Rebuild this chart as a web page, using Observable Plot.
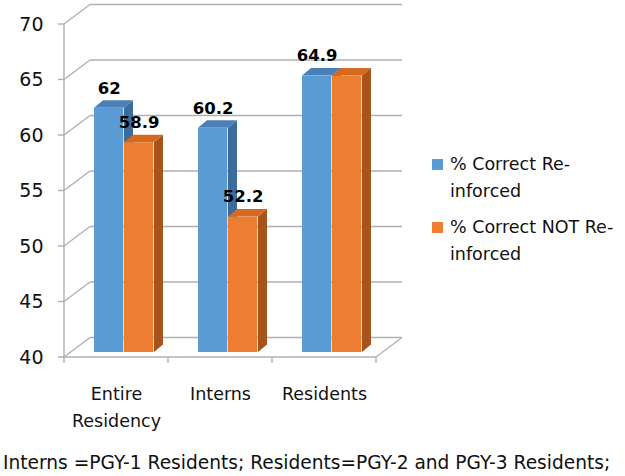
<!DOCTYPE html>
<html>
<head>
<meta charset="utf-8">
<script src="https://cdn.jsdelivr.net/npm/d3@7"></script>
<script src="https://cdn.jsdelivr.net/npm/@observablehq/plot@0.6"></script>
<style>
  html, body { margin: 0; padding: 0; background: #fff; }
  #wrap { position: relative; width: 625px; height: 476px; overflow: hidden; font-family: "DejaVu Sans", sans-serif; color: #111; }
  #wrap svg { position: absolute; left: 0; top: 0; }
  .legend { position: absolute; left: 432px; top: 151px; font-size: 17.5px; line-height: 27px; }
  .legend .item { position: relative; padding-left: 18px; white-space: pre-line; margin-bottom: 9px; }
  .legend .sw { position: absolute; left: 0; top: 8px; width: 11px; height: 11px; }
  .caption { position: absolute; left: 3px; top: 451px; font-size: 18.6px; line-height: 24px; white-space: nowrap; }
</style>
</head>
<body>
<div id="wrap"></div>
<script>
// ---- data ----
const categories = ["Entire Residency", "Interns", "Residents"];
const categoryLabels = ["Entire\nResidency", "Interns", "Residents"];
const seriesNames = ["% Correct Re-inforced", "% Correct NOT Re-inforced"];
const reinforced = [62, 60.2, 64.9];
const notReinforced = [58.9, 52.2, 64.9];
const reinforcedLabels = ["62", "60.2", "64.9"];
const notReinforcedLabels = ["58.9", "52.2", null];
const yTicks = [40, 45, 50, 55, 60, 65, 70];
const captionText = "Interns =PGY-1 Residents; Residents=PGY-2 and PGY-3 Residents;";

// ---- styles ----
const W = 625, H = 476;
const FRONT_X0 = 63, FRONT_X1 = 377, Y_BOTTOM = 357, Y_TOP = 24;
const WALL_DX = 26, WALL_DY = -19.5;
const BAR_DY = -5, DEPTH_DX = 9, DEPTH_DY = -7.5;
const BAND = (FRONT_X1 - FRONT_X0) / categories.length;
const INSETS = [[30, 60], [60, 90]];
const FRONT = ["#5B9BD5", "#ED7D31"];
const TOP = ["#4A80B6", "#D4691F"];
const SIDE = ["#3E6C9A", "#A6541C"];
const GRID = "#b0b0b0";
const FONT = "DejaVu Sans";

const values = [reinforced, notReinforced];
const labels = [reinforcedLabels, notReinforcedLabels];
const rows = [];
values.forEach((vals, s) => vals.forEach((v, i) => rows.push({category: categories[i], series: s, value: v, label: labels[s][i]})));
const base = yTicks[0];

function walls(index, scales) {
  const x = scales.x, y = scales.y;
  const bw = typeof x.bandwidth === "function" ? x.bandwidth() : (x(categories[1]) - x(categories[0]));
  const xL = x(categories[0]);
  const xR = x(categories[categories.length - 1]) + bw;
  const y0 = y(yTicks[0]), yT = y(yTicks[yTicks.length - 1]);
  const g = d3.create("svg:g").attr("fill", "none").attr("stroke", GRID).attr("stroke-width", 1.4);
  const line = (a, b, c, d) => g.append("line").attr("x1", a).attr("y1", b).attr("x2", c).attr("y2", d);
  for (const t of yTicks) {
    const yt = y(t);
    line(xL + WALL_DX, yt + WALL_DY, xR + WALL_DX, yt + WALL_DY);
    line(xL, yt, xL + WALL_DX, yt + WALL_DY);
    line(xL - 6, yt, xL, yt);
  }
  line(xL, yT, xL, y0);
  line(xL, y0, xR, y0);
  line(xR, y0, xR + WALL_DX, y0 + WALL_DY);
  for (let i = 0; i <= categories.length; i++) line(xL + i * bw, y0, xL + i * bw, y0 + 6);
  return g.node();
}

function faces(s) {
  return (index, scales) => {
    const x = scales.x, y = scales.y;
    const g = d3.create("svg:g").attr("stroke", "none");
    for (const r of rows.filter(d => d.series === s)) {
      const xa = x(r.category) + INSETS[s][0], xb = x(r.category) + INSETS[s][1];
      const yv = y(r.value) + BAR_DY, yb = y(base) + BAR_DY;
      g.append("polygon").attr("fill", SIDE[s])
        .attr("points", [[xb, yv], [xb + DEPTH_DX, yv + DEPTH_DY], [xb + DEPTH_DX, yb + DEPTH_DY], [xb, yb]].join(" "));
      g.append("polygon").attr("fill", TOP[s])
        .attr("points", [[xa, yv], [xb, yv], [xb + DEPTH_DX, yv + DEPTH_DY], [xa + DEPTH_DX, yv + DEPTH_DY]].join(" "));
    }
    return g.node();
  };
}

const marks = [walls];
[0, 1].forEach(s => {
  const data = rows.filter(d => d.series === s);
  marks.push(faces(s));
  marks.push(Plot.barY(data, {
    x: "category", y1: () => base, y2: "value", fill: FRONT[s],
    insetLeft: INSETS[s][0], insetRight: BAND - INSETS[s][1], dy: BAR_DY
  }));
});
[0, 1].forEach(s => {
  const data = rows.filter(d => d.series === s && d.label);
  marks.push(Plot.text(data, {
    x: "category", y: "value", text: "label",
    dx: (INSETS[s][0] + INSETS[s][1]) / 2 - BAND / 2, dy: BAR_DY - 20,
    fontFamily: FONT, fontWeight: "bold", fontSize: 16.5, fill: "#000"
  }));
});
marks.push(Plot.text(yTicks, {
  y: d => d, text: d => String(d), frameAnchor: "left", textAnchor: "end", dx: 43,
  fontFamily: FONT, fontSize: 19, fill: "#111"
}));
marks.push(Plot.text(categories, {
  x: d => d, text: (d, i) => categoryLabels[i], frameAnchor: "top", lineAnchor: "top", dy: 380,
  lineHeight: 27 / 17.5, fontFamily: FONT, fontSize: 17.5, fill: "#111"
}));

const chart = Plot.plot({
  width: W, height: H,
  marginLeft: 0, marginRight: 0, marginTop: 0, marginBottom: 0,
  x: {type: "band", domain: categories, range: [FRONT_X0, FRONT_X1], padding: 0, axis: null},
  y: {type: "linear", domain: [yTicks[0], yTicks[yTicks.length - 1]], range: [Y_BOTTOM, Y_TOP], axis: null},
  style: {background: "#fff", overflow: "visible"},
  marks
});

const wrap = document.getElementById("wrap");
wrap.appendChild(chart);

const legend = document.createElement("div");
legend.className = "legend";
seriesNames.forEach((name, s) => {
  const item = document.createElement("div");
  item.className = "item";
  const sw = document.createElement("span");
  sw.className = "sw";
  sw.style.background = FRONT[s];
  item.appendChild(sw);
  item.appendChild(document.createTextNode(name.replace("Re-", "Re-\n")));
  legend.appendChild(item);
});
wrap.appendChild(legend);

const cap = document.createElement("div");
cap.className = "caption";
cap.textContent = captionText;
wrap.appendChild(cap);
</script>
</body>
</html>
